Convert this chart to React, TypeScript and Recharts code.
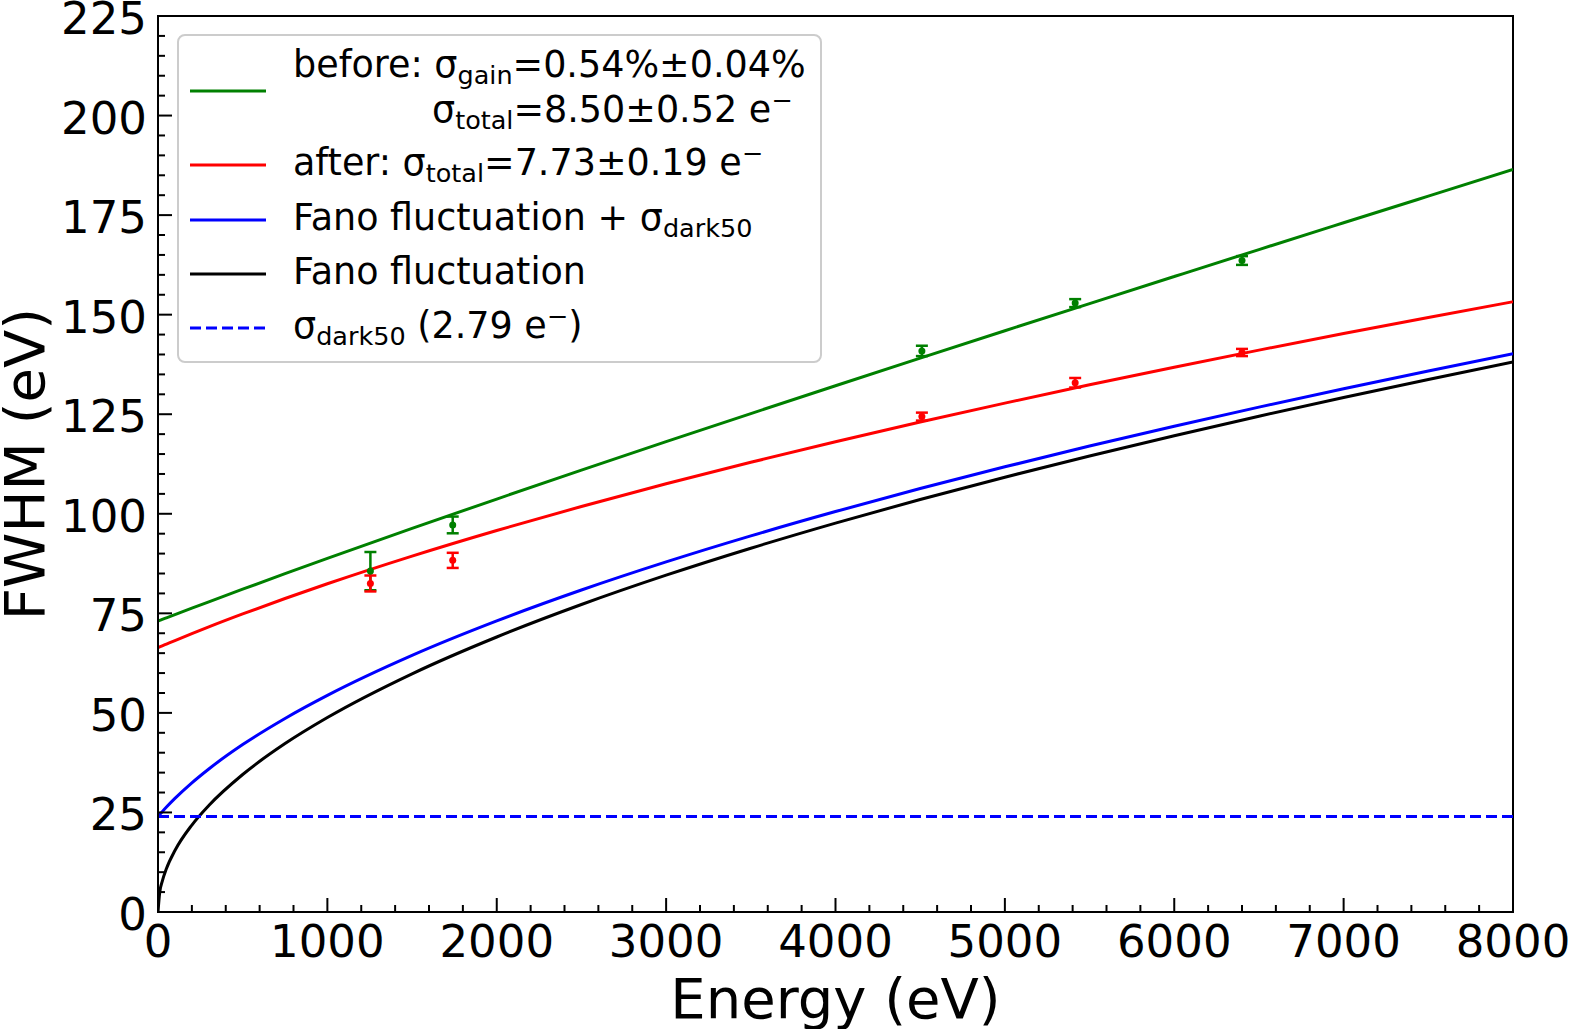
import { ComposedChart, Line, Scatter, ErrorBar, XAxis, YAxis, ReferenceArea, Legend, Label } from 'recharts'

// fit curves, sampled along the energy axis (eV)
const ENERGY = [0, 10, 25, 50, 100, 200, 300, 500, 750, 1000, 1500, 2000, 2500, 3000, 3500, 4000, 4500, 5000, 5500, 6000, 6500, 7000, 7500, 8000]
const BEFORE_FIT = [73.06, 73.22, 73.47, 73.88, 74.69, 76.3, 77.9, 81.06, 84.96, 88.79, 96.33, 103.7, 110.95, 118.1, 125.16, 132.15, 139.08, 145.96, 152.79, 159.58, 166.35, 173.07, 179.77, 186.46]
const AFTER_FIT = [66.4, 66.58, 66.85, 67.29, 68.17, 69.9, 71.59, 74.84, 78.72, 82.42, 89.37, 95.8, 101.83, 107.53, 112.93, 118.1, 123.04, 127.79, 132.38, 136.81, 141.1, 145.26, 149.31, 153.25]
const FANO_DARK = [23.98, 24.47, 25.19, 26.35, 28.52, 32.43, 35.92, 42.04, 48.61, 54.4, 64.44, 73.1, 80.85, 87.91, 94.45, 100.56, 106.33, 111.79, 117.0, 121.99, 126.79, 131.41, 135.86, 140.19]
const FANO = [0, 4.88, 7.72, 10.92, 15.44, 21.84, 26.75, 34.53, 42.29, 48.83, 59.81, 69.06, 77.21, 84.58, 91.35, 97.66, 103.59, 109.19, 114.52, 119.61, 124.5, 129.2, 133.73, 138.12]

// sigma_dark50 level
const DARK_E = [0, 8000]
const DARK_FWHM = [23.98, 23.98]

// measured lines
const MEASURED_E = [1254, 1740, 4510, 5415, 6400]
const BEFORE_FWHM = [85.6, 97.2, 140.9, 152.9, 163.6]
const BEFORE_ERR = [4.8, 2.1, 1.3, 1.0, 1.1]
const AFTER_FWHM = [82.5, 88.3, 124.4, 132.9, 140.5]
const AFTER_ERR = [2.0, 1.9, 1.0, 1.2, 0.9]

const X_TICKS = Array.from({ length: 41 }, (_, i) => i * 200)
const Y_TICKS = Array.from({ length: 46 }, (_, i) => i * 5)

const FONT = '"DejaVu Sans", sans-serif'
const W = 1570
const H = 1029
const PLOT_LEFT = 158
const PLOT_TOP = 16
const PLOT_RIGHT = 1513
const PLOT_BOTTOM = 912
const XAXIS_H = 110

const fitRows = ENERGY.map((E, i) => {
  const d = DARK_E.indexOf(E)
  return {
    E,
    before: BEFORE_FIT[i],
    after: AFTER_FIT[i],
    fanoDark: FANO_DARK[i],
    fano: FANO[i],
    dark: d >= 0 ? DARK_FWHM[d] : null,
  }
})

const beforePts = MEASURED_E.map((E, i) => ({ E, fwhm: BEFORE_FWHM[i], err: BEFORE_ERR[i] }))
const afterPts = MEASURED_E.map((E, i) => ({ E, fwhm: AFTER_FWHM[i], err: AFTER_ERR[i] }))

const XTick = ({ x, payload }: any) => {
  const v = payload.value
  const major = v % 1000 === 0
  return (
    <g>
      <line x1={x} x2={x} y1={PLOT_BOTTOM} y2={PLOT_BOTTOM - (major ? 14 : 7)} stroke="#000" strokeWidth={2} />
      {major && (
        <text x={x} y={PLOT_BOTTOM + 45} textAnchor="middle" fontSize={45} fontFamily={FONT} fill="#000">
          {v}
        </text>
      )}
    </g>
  )
}

const YTick = ({ y, payload }: any) => {
  const v = payload.value
  const major = v % 25 === 0
  return (
    <g>
      <line x1={PLOT_LEFT} x2={PLOT_LEFT + (major ? 14 : 7)} y1={y} y2={y} stroke="#000" strokeWidth={2} />
      {major && (
        <text x={PLOT_LEFT - 11} y={y + 18} textAnchor="end" fontSize={45} fontFamily={FONT} fill="#000">
          {v}
        </text>
      )}
    </g>
  )
}

const Dot = (color: string) => (p: any) => <circle cx={p.cx} cy={p.cy} r={3.5} fill={color} />

// legend text helpers
const Sub = ({ children }: any) => (
  <>
    <tspan dy={7} fontSize={25.5}>{children}</tspan>
    <tspan dy={-7}>{'\u200b'}</tspan>
  </>
)
const Sup = ({ children }: any) => (
  <>
    <tspan dy={-13} fontSize={25.5}>{children}</tspan>
    <tspan dy={13}>{'\u200b'}</tspan>
  </>
)

const LEGEND_ROWS = [
  { color: '#008000', y: 57, dash: undefined },
  { color: '#ff0000', y: 131, dash: undefined },
  { color: '#0000ff', y: 186, dash: undefined },
  { color: '#000000', y: 240, dash: undefined },
  { color: '#0000ff', y: 294, dash: '11 5' },
]

const LegendBox = () => {
  const t = { fontSize: 36.5, fontFamily: FONT, fill: '#000', style: { whiteSpace: 'pre' as const } }
  return (
    <svg width={646} height={330} style={{ display: 'block' }}>
      <rect x={1} y={1} width={643} height={327} rx={7} fill="rgba(255,255,255,0.8)" stroke="#cccccc" strokeWidth={2} />
      {LEGEND_ROWS.map((r, i) => (
        <line key={i} x1={13} x2={89} y1={r.y} y2={r.y} stroke={r.color} strokeWidth={3} strokeDasharray={r.dash} />
      ))}
      <text x={116} y={42.5} {...t}>
        before: σ<Sub>gain</Sub>=0.54%±0.04%
      </text>
      <text x={255} y={87.5} {...t}>
        σ<Sub>total</Sub>=8.50±0.52 e<Sup>−</Sup>
      </text>
      <text x={116} y={140.7} {...t}>
        after: σ<Sub>total</Sub>=7.73±0.19 e<Sup>−</Sup>
      </text>
      <text x={116} y={195.5} {...t}>
        Fano fluctuation + σ<Sub>dark50</Sub>
      </text>
      <text x={116} y={250} {...t}>
        Fano fluctuation
      </text>
      <text x={116} y={304} {...t}>
        σ<Sub>dark50</Sub> (2.79 e<Sup>−</Sup>)
      </text>
    </svg>
  )
}

export default function App() {
  return (
    <div style={{ position: 'absolute', left: 0, top: 0, width: W, height: H, background: '#fff' }}>
      <ComposedChart
        width={W}
        height={H}
        data={fitRows}
        margin={{ top: PLOT_TOP, right: W - PLOT_RIGHT, left: 0, bottom: H - PLOT_BOTTOM - XAXIS_H }}
      >
        <XAxis
          dataKey="E"
          type="number"
          domain={[0, 8000]}
          ticks={X_TICKS}
          interval={0}
          tickLine={false}
          axisLine={{ stroke: '#000', strokeWidth: 2 }}
          tick={<XTick />}
          height={XAXIS_H}
          allowDataOverflow
        >
          <Label
            content={({ viewBox }: any) => (
              <text
                x={viewBox.x + viewBox.width / 2}
                y={viewBox.y + 106}
                textAnchor="middle"
                fontSize={56}
                fontFamily={FONT}
                fill="#000"
              >
                Energy (eV)
              </text>
            )}
          />
        </XAxis>
        <YAxis
          type="number"
          domain={[0, 225]}
          ticks={Y_TICKS}
          interval={0}
          tickLine={false}
          axisLine={{ stroke: '#000', strokeWidth: 2 }}
          tick={<YTick />}
          width={PLOT_LEFT}
          allowDataOverflow
        >
          <Label
            content={({ viewBox }: any) => {
              const cx = 44
              const cy = viewBox.y + viewBox.height / 2
              return (
                <text
                  x={cx}
                  y={cy}
                  transform={`rotate(-90 ${cx} ${cy})`}
                  textAnchor="middle"
                  fontSize={56}
                  fontFamily={FONT}
                  fill="#000"
                >
                  FWHM (eV)
                </text>
              )
            }}
          />
        </YAxis>

        <Line dataKey="before" type="monotone" stroke="#008000" strokeWidth={3} dot={false} isAnimationActive={false} />
        <Line dataKey="after" type="monotone" stroke="#ff0000" strokeWidth={3} dot={false} isAnimationActive={false} />
        <Line dataKey="fanoDark" type="monotone" stroke="#0000ff" strokeWidth={3} dot={false} isAnimationActive={false} />
        <Line dataKey="fano" type="monotone" stroke="#000000" strokeWidth={3} dot={false} isAnimationActive={false} />
        <Line
          dataKey="dark"
          type="linear"
          stroke="#0000ff"
          strokeWidth={3}
          strokeDasharray="11 5"
          dot={false}
          connectNulls
          isAnimationActive={false}
        />

        <Scatter data={beforePts} dataKey="fwhm" fill="#008000" shape={Dot('#008000')} isAnimationActive={false}>
          <ErrorBar dataKey="err" direction="y" width={6} strokeWidth={2.5} stroke="#008000" />
        </Scatter>
        <Scatter data={afterPts} dataKey="fwhm" fill="#ff0000" shape={Dot('#ff0000')} isAnimationActive={false}>
          <ErrorBar dataKey="err" direction="y" width={6} strokeWidth={2.5} stroke="#ff0000" />
        </Scatter>

        <ReferenceArea x1={0} x2={8000} y1={0} y2={225} fill="none" stroke="#000" strokeWidth={2} />

        <Legend
          layout="horizontal"
          verticalAlign="middle"
          align="center"
          width={646}
          height={330}
          wrapperStyle={{ left: 177, top: 34, width: 646, height: 330 }}
          content={() => <LegendBox />}
        />
      </ComposedChart>
    </div>
  )
}
